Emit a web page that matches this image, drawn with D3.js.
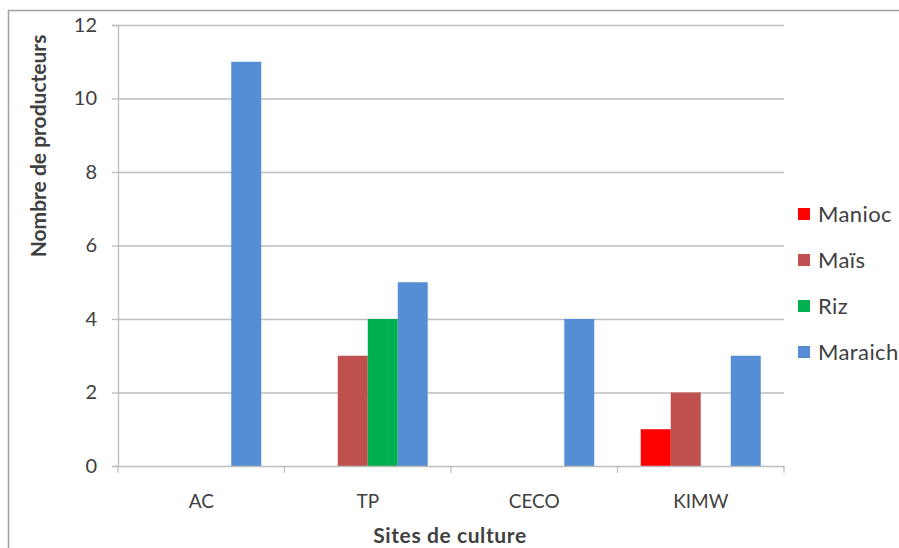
<!DOCTYPE html>
<html><head><meta charset="utf-8">
<script src="https://cdn.jsdelivr.net/npm/d3@7"></script>
<style>body{margin:0;background:#fff}svg{display:block}text{font-family:Lato,"Open Sans",sans-serif;fill:#404040}</style>
</head><body><svg id="c" width="899" height="548"></svg>
<script>
const categories = ["AC","TP","CECO","KIMW"];
const seriesNames = ["Manioc","Maïs","Riz","Maraich"];
const seriesColors = ["#FF0000","#C0504D","#00B050","#558ED5"];
const manioc = [0,0,0,1];
const mais = [0,3,0,2];
const riz = [0,4,0,0];
const maraich = [11,5,4,3];
const yTicks = [0,2,4,6,8,10,12];
const seriesValues = [manioc, mais, riz, maraich];

const svg = d3.select("#c");
const m = {l:118, r:784, t:25, b:466};
svg.append("rect").attr("x",8.5).attr("y",10.5).attr("width",1000).attr("height",1000)
  .attr("fill","none").attr("stroke","#a0a0a0").attr("stroke-width",1.5);

const x0 = d3.scaleBand().domain(categories).range([m.l,m.r]).paddingInner(0).paddingOuter(0);
const x1 = d3.scaleBand().domain(seriesNames).range([0,x0.bandwidth()]).paddingOuter(0.775);
const y = d3.scaleLinear().domain([0,12]).range([m.b,m.t]);

// gridlines
svg.append("g").selectAll("line").data(yTicks.filter(d=>d>0)).join("line")
  .attr("x1",m.l).attr("x2",m.r).attr("y1",d=>y(d)+0.5).attr("y2",d=>y(d)+0.5)
  .attr("stroke","#bdbdbd").attr("stroke-width",1.3);

// y axis
const ya = svg.append("g").attr("transform",`translate(${m.l},0)`)
  .call(d3.axisLeft(y).tickValues(yTicks).tickSize(6).tickPadding(15));
ya.select(".domain").attr("stroke","#bdbdbd").attr("stroke-width",1.3);
ya.selectAll(".tick line").attr("stroke","#bdbdbd").attr("stroke-width",1.3);
ya.selectAll("text").style("font-size","20px").attr("fill","#404040");

// bars
categories.forEach((c,ci)=>{
  svg.append("g").selectAll("rect").data(seriesNames.map((s,si)=>({s,si,v:seriesValues[si][ci]})).filter(d=>d.v>0)).join("rect")
    .attr("x",d=>x0(c)+x1(d.s)).attr("width",x1.bandwidth())
    .attr("y",d=>y(d.v)).attr("height",d=>y(0)-y(d.v))
    .attr("fill",d=>seriesColors[d.si]);
});

// x axis
const xa = svg.append("g").attr("transform",`translate(0,${m.b})`)
  .call(d3.axisBottom(x0).tickSize(0).tickPadding(29));
xa.select(".domain").attr("stroke","#bdbdbd").attr("stroke-width",1.3);
xa.selectAll("text").style("font-size","19px").attr("fill","#404040");
svg.append("g").selectAll("line").data(categories.concat(["end"])).join("line")
  .attr("x1",(d,i)=>m.l+i*x0.bandwidth()).attr("x2",(d,i)=>m.l+i*x0.bandwidth())
  .attr("y1",m.b).attr("y2",m.b+7).attr("stroke","#bdbdbd").attr("stroke-width",1.3);

// axis titles
svg.append("text").attr("transform","translate(46,146) rotate(-90)").attr("text-anchor","middle")
  .style("font-size","21px").style("font-weight","bold").attr("fill","#262626").text("Nombre de producteurs");
svg.append("text").attr("x",450).attr("y",543).attr("text-anchor","middle")
  .style("font-size","21px").style("font-weight","bold").style("letter-spacing","0.6px").attr("fill","#262626").text("Sites de culture");

// legend
const lg = svg.append("g").selectAll("g").data(seriesNames).join("g")
  .attr("transform",(d,i)=>`translate(798,${214+i*46})`);
lg.append("rect").attr("x",0).attr("y",-6).attr("width",12).attr("height",12).attr("fill",(d,i)=>seriesColors[i]);
lg.append("text").attr("x",20).attr("y",8).style("font-size",'22px').style("letter-spacing","0.4px").attr("fill","#404040").text(d=>d);
</script></body></html>
